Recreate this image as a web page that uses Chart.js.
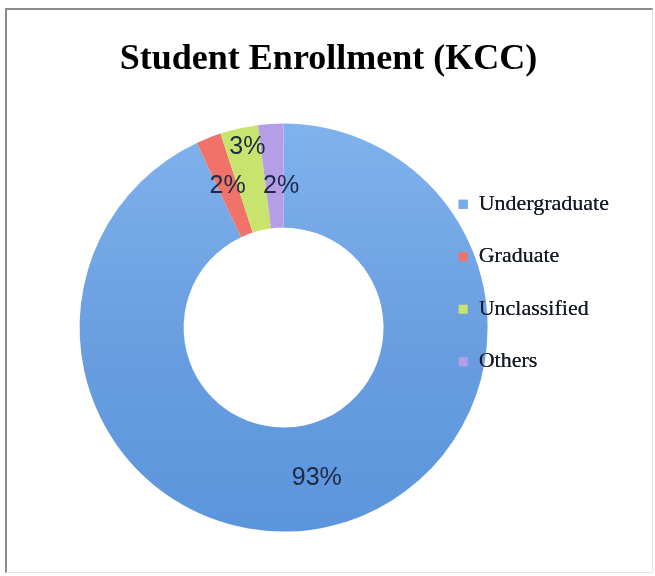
<!DOCTYPE html>
<html>
<head>
<meta charset="utf-8">
<title>Student Enrollment (KCC)</title>
<script src="https://cdn.jsdelivr.net/npm/chart.js@4.4.1/dist/chart.umd.min.js"></script>
<style>
  html, body { margin: 0; padding: 0; background: #fff; }
  #wrap { position: relative; width: 655px; height: 576px; }
  #myChart { position: absolute; left: 0; top: 0; }
  /* thin frame like the original screenshot */
  #frame { position: absolute; left: 5px; top: 8px; width: 645px; height: 562px;
           border-left: 2px solid #8c8c8c; border-top: 2px solid #8c8c8c;
           border-right: 1px solid #e4e4e4; border-bottom: 1px solid #e4e4e4;
           pointer-events: none; }
</style>
</head>
<body>
<div id="wrap">
  <canvas id="myChart" width="655" height="576" style="width:655px;height:576px"></canvas>
  <div id="frame"></div>
</div>
<script>
var categories = ['Undergraduate', 'Graduate', 'Unclassified', 'Others'];
var enrollment = [93, 2, 3, 2];
var sliceColors = ['#6a9fe1', '#f0736a', '#c8e46e', '#b69ee7'];

// blue slice gets a soft top-to-bottom shade, the rest stay flat
function sliceFill(c) {
    var area = c.chart.chartArea;
    if (c.dataIndex !== 0 || !area) return sliceColors[c.dataIndex];
    var g = c.chart.ctx.createLinearGradient(0, area.top, 0, area.bottom);
    g.addColorStop(0, '#80b2ec');
    g.addColorStop(0.5, '#6a9fe1');
    g.addColorStop(1, '#5b95db');
    return g;
}

// percentage labels on the ring, a couple nudged by hand like in Excel
var percentLabels = {
    id: 'percentLabels',
    afterDatasetsDraw: function(chart, args, opts) {
        var ctx = chart.ctx;
        var meta = chart.getDatasetMeta(0);
        var data = chart.data.datasets[0].data;
        var total = data.reduce(function(a, b) { return a + b; }, 0);
        ctx.save();
        ctx.font = opts.font;
        ctx.fillStyle = opts.color;
        ctx.textAlign = 'center';
        ctx.textBaseline = 'middle';
        meta.data.forEach(function(arc, i) {
            var p = arc.tooltipPosition();
            var off = opts.offsets[i] || [0, 0];
            ctx.fillText(Math.round(data[i] / total * 100) + '%', p.x + off[0], p.y + off[1]);
        });
        ctx.restore();
        // legend overlaps the ring, so paint it again on top
        chart.legend.draw();
    }
};

// the title sits centred on the whole picture, not over the plot area
var titleShift = {
    id: 'titleShift',
    afterLayout: function(chart, args, opts) {
        var t = chart.titleBlock;
        t.left -= opts.dx;
        t.right -= opts.dx;
    }
};

var ctx = document.getElementById('myChart');
var myDoughnutChart = new Chart(ctx, {
    type: 'doughnut',
    data: {
        labels: categories,
        datasets: [{
            data: enrollment,
            backgroundColor: sliceFill,
            borderWidth: 0,
            hoverOffset: 0
        }]
    },
    options: {
        responsive: false,
        animation: false,
        devicePixelRatio: 1,
        radius: 204,
        cutout: '49%',
        layout: { padding: { left: 139, right: 36, top: 0, bottom: 44 } },
        plugins: {
            title: {
                display: true,
                text: 'Student Enrollment (KCC)',
                color: '#000',
                font: { family: 'Liberation Serif', size: 36, weight: 'bold' },
                padding: { top: 38, bottom: 42 }
            },
            legend: {
                position: 'right',
                align: 'start',
                fullSize: false,
                title: { display: true, text: '', font: { size: 10 }, padding: { top: 27.5, bottom: 0 } },
                labels: {
                    boxWidth: 9,
                    boxHeight: 9,
                    padding: 30.5,
                    color: '#151a26',
                    font: { family: 'Liberation Serif', size: 22 }
                }
            },
            tooltip: { enabled: false },
            titleShift: { dx: 50.5 },
            percentLabels: {
                font: '25px "Liberation Sans"',
                color: '#1c2a46',
                offsets: [[0, 2], [0, 0], [-3, -32], [7, 10]]
            }
        }
    },
    plugins: [percentLabels, titleShift]
});
</script>
</body>
</html>
